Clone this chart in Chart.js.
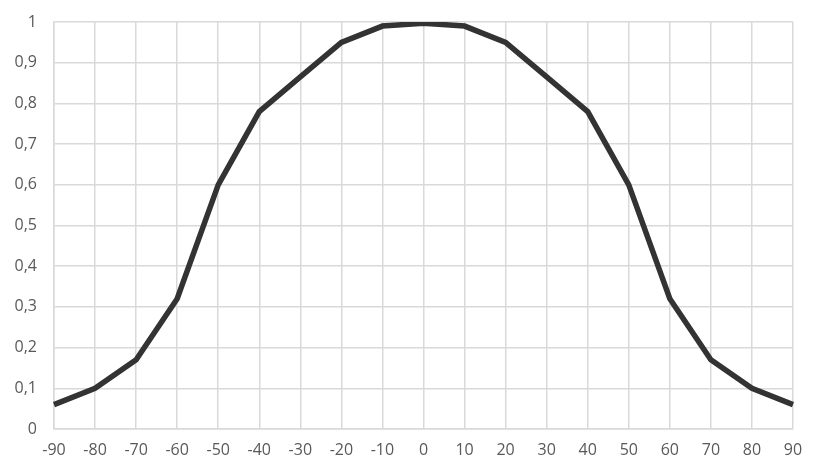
<!DOCTYPE html>
<html>
<head>
<meta charset="utf-8">
<script src="https://cdn.jsdelivr.net/npm/chart.js@4"></script>
<style>
  html, body { margin: 0; padding: 0; background: #fff; }
  #wrap { width: 822px; height: 476px; }
</style>
</head>
<body>
<div id="wrap"><canvas id="mycanvas"></canvas></div>
<script>
var angles = ['-90', '-80', '-70', '-60', '-50', '-40', '-30', '-20', '-10', '0', '10', '20', '30', '40', '50', '60', '70', '80', '90'];
var intensity = [0.06, 0.10, 0.17, 0.32, 0.60, 0.78, 0.865, 0.95, 0.99, 0.997, 0.99, 0.95, 0.865, 0.78, 0.60, 0.32, 0.17, 0.10, 0.06];

var gridColor = '#d9d9d9';
var tickColor = '#595959';
var tickFont = { family: "'Open Sans', 'Liberation Sans', sans-serif", size: 16 };

var ctx = document.getElementById('mycanvas');

new Chart(ctx, {
	type: 'line',
	data: {
		labels: angles,
		datasets: [
			{
				data: intensity,
				borderColor: '#333333',
				borderWidth: 5.5,
				pointRadius: 0,
				tension: 0,
				fill: false
			}
		]
	},
	options: {
		responsive: true,
		maintainAspectRatio: false,
		animation: false,
		layout: { padding: { top: 22, right: 29, bottom: 4, left: 0 } },
		plugins: {
			legend: { display: false },
			tooltip: { enabled: false }
		},
		scales: {
			x: {
				grid: { color: gridColor, lineWidth: 1.5, drawTicks: false },
				border: { color: gridColor, width: 1.5 },
				ticks: { color: tickColor, font: tickFont, padding: 12, maxRotation: 0, autoSkip: false },
				afterFit: function(s) { s.height = 43; s.paddingLeft = 0; s.paddingRight = 0; }
			},
			y: {
				min: 0,
				max: 1,
				grid: { color: gridColor, lineWidth: 1.5, drawTicks: false },
				border: { color: gridColor, width: 1.5 },
				ticks: {
					stepSize: 0.1,
					color: tickColor,
					font: tickFont,
					padding: 17,
					callback: function(v) { return String(Number(v.toFixed(1))).replace('.', ','); }
				},
				afterFit: function(s) { s.width = 54; s.paddingTop = 0; s.paddingBottom = 0; }
			}
		}
	}
});
</script>
</body>
</html>
